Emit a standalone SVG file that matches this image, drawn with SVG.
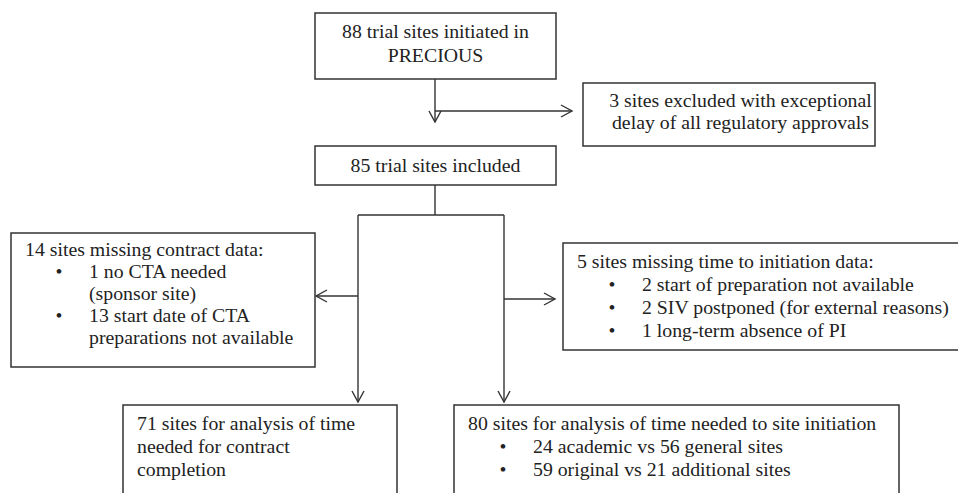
<svg xmlns="http://www.w3.org/2000/svg" width="958" height="493" viewBox="0 0 958 493">
<style>
.box{fill:#fff;stroke:#333;stroke-width:1.5}
.t{font-family:'Liberation Serif','Times New Roman',Times,'DejaVu Serif',serif;font-size:19.8px;fill:#222}
.c{text-anchor:middle}
.con{fill:none;stroke:#333;stroke-width:1.4}
</style>
<defs>
<marker id="arr" markerUnits="userSpaceOnUse" markerWidth="16" markerHeight="16" viewBox="-13 -8 16 16" refX="0" refY="0" orient="auto">
<path d="M-11,-6 L0,0 L-11,6" fill="none" stroke="#333" stroke-width="1.4"/>
</marker>
</defs>
<rect width="958" height="493" fill="#fff"/>
<g id="connectors">
<path class="con" d="M435,79 V122" marker-end="url(#arr)"/>
<path class="con" d="M435,111 H572" marker-end="url(#arr)"/>
<path class="con" d="M435,185 V215 M358,215 H504"/>
<path class="con" d="M358,215 V402" marker-end="url(#arr)"/>
<path class="con" d="M358,296 H316" marker-end="url(#arr)"/>
<path class="con" d="M504,215 V402" marker-end="url(#arr)"/>
<path class="con" d="M504,299 H555" marker-end="url(#arr)"/>
</g>
<g id="n1">
<rect class="box" x="315" y="13" width="241" height="66"/>
<text class="t c" x="435.5" y="38" font-family="Liberation Serif, serif">88 trial sites initiated in</text>
<text class="t c" x="435.5" y="62" font-family="Liberation Serif, serif">PRECIOUS</text>
</g>
<g id="n2">
<rect class="box" x="583" y="83" width="292" height="63"/>
<text class="t c" x="740.5" y="107">3 sites excluded with exceptional</text>
<text class="t c" x="740.5" y="129">delay of all regulatory approvals</text>
</g>
<g id="n3">
<rect class="box" x="315" y="146" width="241" height="39"/>
<text class="t c" x="435.5" y="172">85 trial sites included</text>
</g>
<g id="n4">
<rect class="box" x="11" y="233" width="304" height="134"/>
<text class="t" x="25" y="256">14 sites missing contract data:</text>
<text class="t c" x="59" y="278">•</text>
<text class="t" x="89" y="278">1 no CTA needed</text>
<text class="t" x="89" y="300">(sponsor site)</text>
<text class="t c" x="59" y="322">•</text>
<text class="t" x="89" y="322">13 start date of CTA</text>
<text class="t" x="89" y="344">preparations not available</text>
</g>
<g id="n5">
<rect class="box" x="563" y="243" width="400" height="107"/>
<text class="t" x="577" y="268">5 sites missing time to initiation data:</text>
<text class="t c" x="612" y="291">•</text>
<text class="t" x="642" y="291">2 start of preparation not available</text>
<text class="t c" x="612" y="314">•</text>
<text class="t" x="642" y="314">2 SIV postponed (for external reasons)</text>
<text class="t c" x="612" y="337">•</text>
<text class="t" x="642" y="337">1 long-term absence of PI</text>
</g>
<g id="n6">
<rect class="box" x="123" y="405" width="274" height="100"/>
<text class="t" x="137" y="430">71 sites for analysis of time</text>
<text class="t" x="137" y="453">needed for contract</text>
<text class="t" x="137" y="476">completion</text>
</g>
<g id="n7">
<rect class="box" x="454" y="405" width="445" height="100"/>
<text class="t" x="468" y="430">80 sites for analysis of time needed to site initiation</text>
<text class="t c" x="503" y="453">•</text>
<text class="t" x="533" y="453">24 academic vs 56 general sites</text>
<text class="t c" x="503" y="476">•</text>
<text class="t" x="533" y="476">59 original vs 21 additional sites</text>
</g>
</svg>
